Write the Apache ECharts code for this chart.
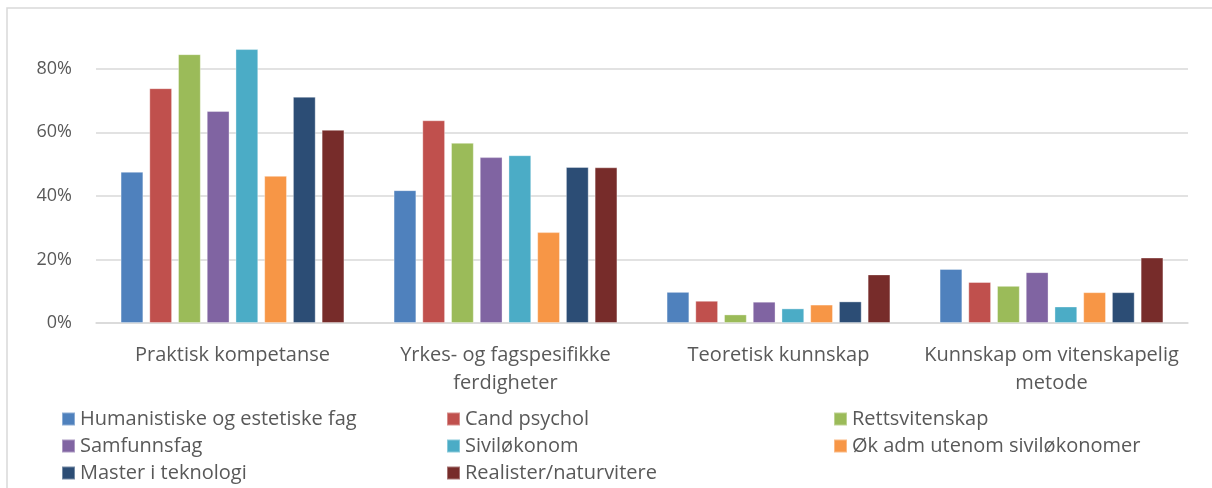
<!DOCTYPE html>
<html>
<head>
<meta charset="utf-8">
<script src="https://cdn.jsdelivr.net/npm/echarts@6/dist/echarts.min.js"></script>
<style>html,body{margin:0;padding:0;background:#fff}#c{width:1212px;height:488px}</style>
</head>
<body>
<div id="c"></div>
<script>
const categories = ["Praktisk kompetanse", "Yrkes- og fagspesifikke\nferdigheter", "Teoretisk kunnskap", "Kunnskap om vitenskapelig\nmetode"];
const seriesNames = ["Humanistiske og estetiske fag", "Cand psychol", "Rettsvitenskap", "Samfunnsfag", "Siviløkonom", "Øk adm utenom siviløkonomer", "Master i teknologi", "Realister/naturvitere"];
const humanistiske = [0.476, 0.418, 0.098, 0.170];
const candPsychol = [0.739, 0.638, 0.070, 0.129];
const rettsvitenskap = [0.846, 0.567, 0.027, 0.117];
const samfunnsfag = [0.667, 0.522, 0.067, 0.160];
const silvokonom = [0.862, 0.528, 0.046, 0.052];
const okAdm = [0.463, 0.286, 0.058, 0.097];
const masterTek = [0.712, 0.491, 0.068, 0.097];
const realister = [0.608, 0.490, 0.153, 0.206];
const yTicks = [0, 0.2, 0.4, 0.6, 0.8];
const colors = ["#4F81BD", "#C0504D", "#9BBB59", "#8064A2", "#4BACC6", "#F79646", "#2C4D75", "#772C2A"];
const values = [humanistiske, candPsychol, rettsvitenskap, samfunnsfag, silvokonom, okAdm, masterTek, realister];

const FONT = "Open Sans";
const chart = echarts.init(document.getElementById('c'), null, {renderer: 'canvas'});
const legendBase = {
  orient: 'vertical', top: 404, itemWidth: 13, itemHeight: 13, itemGap: 7,
  icon: 'rect',
  textStyle: {fontFamily: FONT, fontSize: 20, color: '#595959', padding: [0, 0, 0, 0]},
  selectedMode: false
};
const grid = '#d9d9d9';
chart.setOption({
  animation: false,
  color: colors,
  textStyle: {fontFamily: FONT},
  graphic: [{
    type: 'rect', shape: {x: 7, y: 8, width: 1220, height: 500},
    style: {fill: 'none', stroke: grid, lineWidth: 1.5}, silent: true, z: -10
  }],
  grid: {left: 96, right: 24, top: 37, bottom: 165, containLabel: false},
  legend: [
    Object.assign({}, legendBase, {left: 56, data: [seriesNames[0], seriesNames[3], seriesNames[6]]}),
    Object.assign({}, legendBase, {left: 441, data: [seriesNames[1], seriesNames[4], seriesNames[7]]}),
    Object.assign({}, legendBase, {left: 828, data: [seriesNames[2], seriesNames[5]]})
  ],
  xAxis: {
    type: 'category', data: categories,
    axisLine: {show: true, lineStyle: {color: grid, width: 1.5}},
    axisTick: {show: false},
    axisLabel: {fontFamily: FONT, fontSize: 20, color: '#595959', margin: 18, lineHeight: 28, interval: 0}
  },
  yAxis: {
    type: 'value', min: 0, max: 0.9, interval: 0.2,
    axisLine: {show: false}, axisTick: {show: false},
    splitLine: {lineStyle: {color: [grid, grid, grid, grid, grid, 'rgba(0,0,0,0)'], width: 1.5}},
    axisLabel: {fontFamily: FONT, fontSize: 18, color: '#595959', margin: 24,
      formatter: v => yTicks.some(t => Math.abs(t - v) < 1e-9) ? Math.round(v * 100) + '%' : ''}
  },
  series: seriesNames.map((n, i) => ({
    name: n, type: 'bar', data: values[i],
    barGap: '26%', barCategoryGap: '18%',
    itemStyle: {color: colors[i], borderColor: 'rgba(255,255,255,0.35)', borderWidth: 1}
  }))
});
</script>
</body>
</html>
